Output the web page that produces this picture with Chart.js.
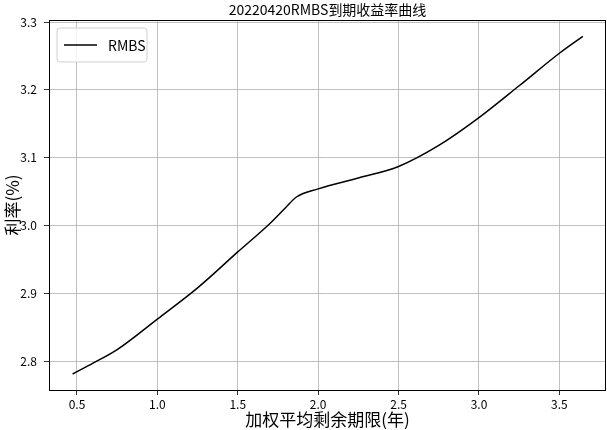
<!DOCTYPE html>
<html>
<head>
<meta charset="utf-8">
<script src="https://cdn.jsdelivr.net/npm/chart.js@4.4.0/dist/chart.umd.min.js"></script>
<style>
  body { margin: 0; background: #fff; }
  #wrap { width: 607px; height: 430px; }
</style>
</head>
<body>
<div id="wrap"><canvas id="chart"></canvas></div>
<script>
// 加权平均剩余期限 (年) / 利率 (%)
const terms = [0.473, 0.6, 0.75, 1.0, 1.25, 1.5, 1.7, 1.8, 1.865, 2.0, 2.25, 2.5, 2.75, 3.0, 3.25, 3.5, 3.646];
const rates = [2.781, 2.797, 2.817, 2.862, 2.908, 2.961, 3.003, 3.027, 3.042, 3.054, 3.070, 3.087, 3.118, 3.159, 3.206, 3.254, 3.279];
const xTicks = [0.5, 1.0, 1.5, 2.0, 2.5, 3.0, 3.5];
const yTicks = [2.8, 2.9, 3.0, 3.1, 3.2, 3.3];
const seriesName = "RMBS";
const chartTitle = "20220420RMBS到期收益率曲线";

const cjk = "'Noto Sans CJK SC', 'Noto Sans', sans-serif";

// frame + title + legend drawn on top, matplotlib style
const extras = {
  id: "extras",
  afterDraw(chart) {
    const ctx = chart.ctx;
    const a = chart.chartArea;
    ctx.save();
    ctx.strokeStyle = "#000";
    ctx.lineWidth = 1;
    ctx.strokeRect(a.left + 0.5, a.top + 0.5, a.right - a.left - 1, a.bottom - a.top);

    ctx.fillStyle = "#000";
    ctx.font = "14px " + cjk;
    ctx.textAlign = "center";
    ctx.textBaseline = "middle";
    ctx.fillText(chartTitle, (a.left + a.right) / 2, 10);

    // legend box
    const bx = a.left + 8, by = a.top + 8, bw = 90, bh = 34;
    ctx.fillStyle = "rgba(255,255,255,0.8)";
    ctx.strokeStyle = "#d0d0d0";
    ctx.beginPath();
    ctx.roundRect(bx, by, bw, bh, 3);
    ctx.fill();
    ctx.stroke();
    ctx.strokeStyle = "#000";
    ctx.lineWidth = 1.5;
    ctx.beginPath();
    ctx.moveTo(bx + 7, by + bh / 2);
    ctx.lineTo(bx + 40, by + bh / 2);
    ctx.stroke();
    ctx.fillStyle = "#000";
    ctx.textAlign = "left";
    ctx.font = "14px " + cjk;
    ctx.fillText(chart.data.datasets[0].label, bx + 51, by + bh / 2 + 1);
    ctx.restore();
  }
};

new Chart(document.getElementById("chart"), {
  type: "line",
  data: {
    datasets: [{
      label: seriesName,
      data: terms.map((t, i) => ({ x: t, y: rates[i] })),
      borderColor: "#000",
      borderWidth: 1.5,
      pointRadius: 0,
      cubicInterpolationMode: "monotone",
      fill: false
    }]
  },
  options: {
    responsive: true,
    maintainAspectRatio: false,
    animation: false,
    layout: { padding: { top: 20, right: 1, left: 0, bottom: 0 } },
    plugins: {
      legend: { display: false },
      title: { display: false },
      tooltip: { enabled: false }
    },
    scales: {
      x: {
        type: "linear",
        min: 0.326,
        max: 3.79,
        afterBuildTicks: s => { s.ticks = xTicks.map(v => ({ value: v })); },
        afterFit: s => { s.height = 40; },
        grid: { color: "#b0b0b0", lineWidth: 0.8, tickColor: "#000", tickLength: 5 },
        border: { display: false },
        ticks: {
          color: "#000",
          font: { family: cjk, size: 12 },
          padding: 2,
          maxRotation: 0,
          callback: v => v.toFixed(1)
        },
        title: {
          display: true,
          text: "加权平均剩余期限(年)",
          color: "#000",
          font: { family: cjk, size: 17 },
          padding: { top: 0, bottom: 0 }
        }
      },
      y: {
        type: "linear",
        min: 2.7574,
        max: 3.303,
        afterBuildTicks: s => { s.ticks = yTicks.map(v => ({ value: v })); },
        afterFit: s => { s.width = 49; },
        grid: { color: "#b0b0b0", lineWidth: 0.8, tickColor: "#000", tickLength: 5 },
        border: { display: false },
        ticks: {
          color: "#000",
          font: { family: cjk, size: 12 },
          padding: 7,
          callback: v => v.toFixed(1)
        },
        title: {
          display: true,
          text: "利率(%)",
          color: "#000",
          font: { family: cjk, size: 17 },
          padding: { top: 2, bottom: 0 }
        }
      }
    }
  },
  plugins: [extras]
});
</script>
</body>
</html>
